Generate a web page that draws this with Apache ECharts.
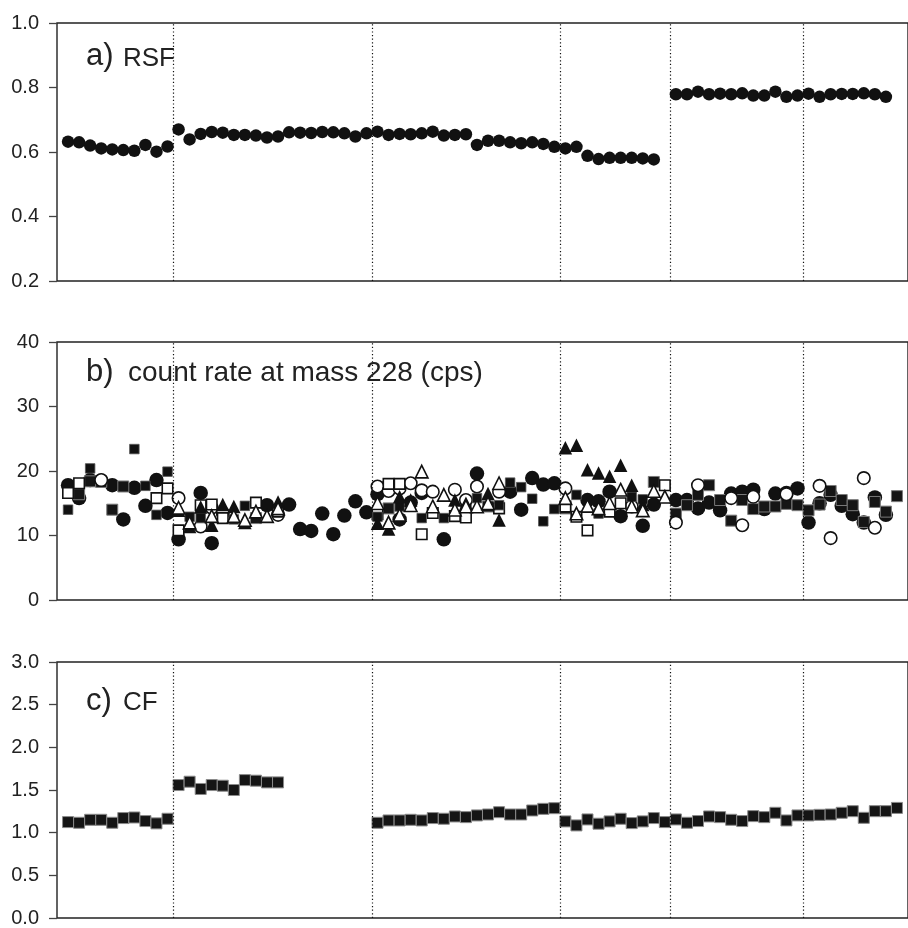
<!DOCTYPE html>
<html><head><meta charset="utf-8">
<script src="https://cdn.jsdelivr.net/npm/echarts@6/dist/echarts.min.js"></script>
<style>html,body{margin:0;padding:0;background:#fff}#c{width:908px;height:928px}</style>
</head><body><div id="c"></div>
<script>
// ---- data ----
const dividers = [9.5, 27.5, 44.5, 54.5, 66.5];

const rsf = [0.632,0.630,0.620,0.611,0.608,0.606,0.604,0.622,0.601,0.617,
 0.670,0.639,0.656,0.662,0.660,0.653,0.653,0.651,0.645,0.648,
 0.661,0.660,0.659,0.662,0.661,0.658,0.648,0.658,
 0.663,0.653,0.656,0.655,0.658,0.663,0.651,0.653,0.655,0.622,0.635,0.635,0.630,0.627,0.630,0.625,0.616,
 0.611,0.616,0.588,0.578,0.582,0.582,0.582,0.580,0.577,null,
 0.779,0.779,0.787,0.779,0.781,0.779,0.782,0.775,0.775,0.787,0.771,0.775,
 0.781,0.771,0.779,0.780,0.780,0.782,0.779,0.771,null];

const cf = [1.124,1.116,1.151,1.151,1.116,1.171,1.178,1.136,1.109,1.163,
 1.558,1.597,1.512,1.558,1.550,1.500,1.616,1.609,1.589,1.589,
 null,null,null,null,null,null,null,null,
 1.116,1.143,1.143,1.151,1.143,1.171,1.163,1.190,1.182,1.202,1.213,1.240,1.213,1.213,1.260,1.279,1.287,
 1.132,1.085,1.155,1.105,1.132,1.163,1.112,1.132,1.171,1.124,
 1.155,1.116,1.136,1.190,1.182,1.151,1.136,1.194,1.182,1.233,1.143,1.202,
 1.202,1.209,1.213,1.233,1.252,1.174,1.252,1.252,1.290];

// panel b: [sample index, count rate]
const bFilledCircles = [[0,17.8],[1,15.8],[2,18.6],[3,18.5],[4,17.8],[5,12.5],[6,17.4],[7,14.6],[8,18.6],[9,13.5],
 [10,9.4],[12,16.6],[13,8.8],[18,14.7],[20,14.8],[21,11.0],[22,10.7],[23,13.4],[24,10.2],[25,13.1],[26,15.3],[27,13.6],
 [28,16.4],[29,17.8],[30,12.5],[31,15.1],[32,16.6],[34,9.4],[37,19.6],[40,16.8],[41,14.0],[42,18.9],[43,17.9],[44,18.1],
 [47,15.5],[48,15.3],[49,16.8],[50,13.0],[52,11.5],[53,14.8],
 [55,15.5],[56,15.5],[57,14.2],[58,15.1],[59,13.9],[60,16.5],[61,16.8],[62,17.1],[63,14.1],[64,16.5],[65,16.6],[66,17.3],
 [67,12.0],[68,15.0],[69,16.3],[70,14.6],[71,13.3],[72,12.0],[73,15.9],[74,13.2]];
const bOpenCircles = [[3,18.6],[10,15.8],[12,11.4],[13,14.3],[14,13.5],[19,13.2],
 [28,17.6],[29,16.9],[30,17.3],[31,18.1],[32,17.0],[33,16.8],[35,17.1],[36,15.5],[37,17.6],[39,16.8],
 [45,17.3],[51,14.5],
 [55,12.0],[57,17.8],[60,15.8],[61,11.6],[62,16.0],[65,16.4],[68,17.7],[69,9.6],[72,18.9],[73,11.2]];
const bSquaresGrey = [[1,16.4],[2,18.4],[3,18.3],[4,14.0],[5,17.6],[17,12.7],[29,14.2],[36,14.0],[38,14.5],[45,14.2],[53,18.3],
 [55,13.4],[56,14.7],[57,16.3],[58,17.8],[59,15.5],[60,12.3],[61,15.5],[62,14.1],[63,14.5],[64,14.5],[65,14.9],[66,14.7],
 [67,13.9],[68,14.8],[69,16.9],[70,15.5],[71,14.7],[72,12.1],[73,15.2],[74,13.7],[75,16.1]];
const bSquaresBlack = [[0,14.0],[2,20.4],[6,23.4],[7,17.7],[8,13.2],[9,19.9],[11,12.9],[12,12.7],[15,12.5],[16,14.6],
 [28,12.9],[30,14.5],[32,12.7],[34,12.7],[37,15.8],[39,14.7],[40,18.2],[41,17.5],[42,15.7],[43,12.2],[44,14.1],
 [46,16.3],[48,13.4],[51,16.0],[52,15.6]];
const bOpenSquares = [[0,16.6],[1,18.1],[8,15.8],[9,17.3],[10,10.8],[12,14.7],[13,14.8],[14,12.7],[17,15.1],[19,13.7],
 [28,13.3],[29,18.0],[30,18.0],[32,10.2],[33,13.5],[35,13.0],[36,12.8],[39,14.2],
 [45,14.5],[46,12.9],[47,10.8],[49,13.7],[50,15.0],[54,17.8]];
const bFilledTriangles = [[10,13.9],[11,11.4],[12,14.4],[13,11.6],[14,14.8],[15,14.5],[16,12.0],[19,15.2],
 [28,11.9],[29,11.0],[30,16.0],[31,15.5],[35,15.5],[36,15.0],[38,16.5],[39,12.4],
 [45,23.6],[46,24.0],[47,20.2],[48,19.7],[49,19.2],[50,20.9],[51,17.8],[52,14.8]];
const bOpenTriangles = [[10,14.3],[11,12.0],[13,13.0],[15,13.0],[16,12.4],[17,13.7],[18,13.0],[19,14.2],
 [28,15.0],[29,12.0],[30,13.2],[31,14.7],[32,19.9],[33,14.5],[34,16.3],[35,14.0],[36,14.5],[37,14.5],[38,15.0],[39,18.1],
 [45,15.8],[46,13.4],[47,14.6],[48,14.2],[49,15.0],[50,17.1],[51,14.5],[52,13.9],[53,16.9],[54,16.0]];

const yTicksA = {min:0.2, max:1.0, interval:0.2};
const yTicksB = {min:0, max:40, interval:10};
const yTicksC = {min:0, max:3.0, interval:0.5};

// ---- chart ----
const FONT = "'Liberation Sans', Arial, sans-serif";
const toPairs = arr => arr.map((v,i)=> v==null ? null : [i,v]).filter(Boolean);
const chart = echarts.init(document.getElementById('c'), null, {renderer:'canvas'});

const tops = [23, 342, 662];
const grids = tops.map(t => ({left:57, top:t, width:861, height:258, show:true,
  borderColor:'#222', borderWidth:1.4, backgroundColor:'transparent', containLabel:false}));
const xAxes = tops.map((t,k) => ({type:'value', gridIndex:k, min:-1, max:76, show:false}));
function yAx(k, tk, dec){
  return {type:'value', gridIndex:k, min:tk.min, max:tk.max, interval:tk.interval, position:'left',
    axisLine:{show:false, onZero:false}, splitLine:{show:false},
    axisTick:{show:true, inside:false, length:8, lineStyle:{color:'#444', width:1.3}},
    axisLabel:{margin:18, color:'#222', fontSize:20, fontFamily:FONT,
      formatter: v => dec ? v.toFixed(1) : String(Math.round(v))}};
}
const yAxes = [yAx(0,yTicksA,true), yAx(1,yTicksB,false), yAx(2,yTicksC,true)];

const dividerSeries = [0,1,2].map(k => ({type:'line', xAxisIndex:k, yAxisIndex:k, data:[], silent:true,
  markLine:{silent:true, symbol:'none', label:{show:false},
    lineStyle:{type:[1.2,2.4], color:'#111', width:1.2},
    data: dividers.map(d => ({xAxis:d}))}}));

const filled = {color:'#111', opacity:1};
const openSt = {color:'#fff', borderColor:'#111', borderWidth:1.6, opacity:1};
function sc(k, data, symbol, size, style, z){
  return {type:'scatter', xAxisIndex:k, yAxisIndex:k, data, symbol, symbolSize:size, itemStyle:style, z:z||2, silent:true};
}

const series = [
  ...dividerSeries,
  sc(0, toPairs(rsf), 'circle', 12.5, filled),
  sc(1, bFilledCircles, 'circle', 14.5, filled, 2),
  sc(1, bSquaresGrey, 'rect', 11, {color:'#151515', borderColor:'#7a7a7a', borderWidth:1, opacity:1}, 3),
  sc(1, bOpenCircles, 'circle', 12.5, openSt, 4),
  sc(1, bOpenSquares, 'rect', 10.5, openSt, 5),
  sc(1, bSquaresBlack, 'rect', 9.5, {color:'#111', borderColor:'#555', borderWidth:0.8, opacity:1}, 6),
  sc(1, bFilledTriangles, 'triangle', 13.5, filled, 7),
  sc(1, bOpenTriangles, 'triangle', 12.5, openSt, 8),
  sc(2, toPairs(cf), 'rect', 11, {color:'#151515', borderColor:'#8a8a8a', borderWidth:1, opacity:1})
];

function txt(x, y, text, size){
  return {type:'text', x, y, silent:true, z:100,
    style:{text, fill:'#222', font: size + 'px ' + FONT, verticalAlign:'middle', align:'left'}};
}
const graphic = [
  txt(86, 56.8, 'a)', 31), txt(123, 58.5, 'RSF', 26),
  txt(86, 372.6, 'b)', 31), txt(128, 373.3, 'count rate at mass 228 (cps)', 28),
  txt(86, 701, 'c)', 31), txt(123, 702.7, 'CF', 26)
];

chart.setOption({animation:false, backgroundColor:'#fff', grid:grids, xAxis:xAxes, yAxis:yAxes, series, graphic});
</script></body></html>
